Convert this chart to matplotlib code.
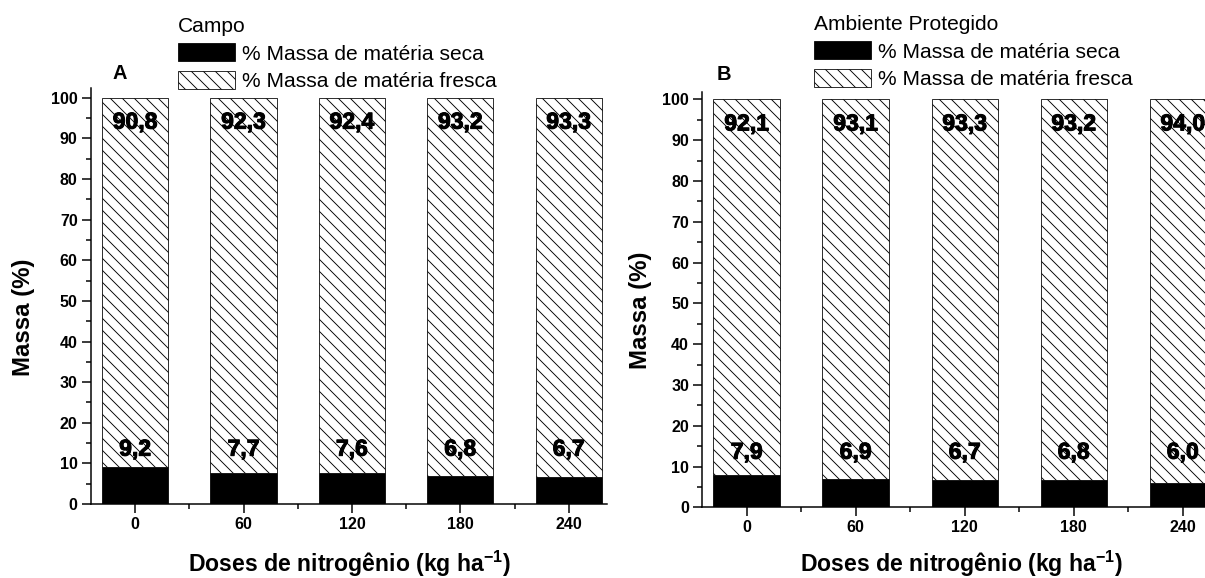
import matplotlib
matplotlib.use('Agg')
import matplotlib.pyplot as plt
import matplotlib.patheffects as pe
from matplotlib.ticker import FixedLocator

# Doses de N e percentuais de massa (seca / fresca)
doses = ['0', '60', '120', '180', '240']
seca_campo = [9.2, 7.7, 7.6, 6.8, 6.7]
fresca_campo = [90.8, 92.3, 92.4, 93.2, 93.3]
seca_protegido = [7.9, 6.9, 6.7, 6.8, 6.0]
fresca_protegido = [92.1, 93.1, 93.3, 93.2, 94.0]

W, H = 1205, 578
plt.rcParams['font.family'] = ['Liberation Sans', 'DejaVu Sans']
plt.rcParams['hatch.linewidth'] = 0.9
plt.rcParams['hatch.color'] = 'black'

fig = plt.figure(figsize=(W / 72, H / 72), dpi=72)
negrito = [pe.withStroke(linewidth=1.0, foreground='black')]


def painel(rect, ytop, seca, fresca, letra, titulo, leg_xy, ylab_xy, xlab_xy, letra_xy):
    ax = fig.add_axes([rect[0] / W, 1 - rect[1] / H, rect[2] / W, rect[3] / H])
    x = range(len(doses))
    b1 = ax.bar(x, seca, width=0.61, color='black', edgecolor='black', linewidth=0.8)
    b2 = ax.bar(x, fresca, width=0.61, bottom=seca, color='white', edgecolor='black',
                linewidth=0.8, hatch='\\\\')

    for i in x:
        ax.text(i, 94.0, f'{fresca[i]:.1f}'.replace('.', ','), ha='center', va='center',
                fontsize=23, fontweight='bold', path_effects=negrito)
        ax.text(i, 13.5, f'{seca[i]:.1f}'.replace('.', ','), ha='center', va='center',
                fontsize=23, fontweight='bold', path_effects=negrito)

    ax.set_xlim(-0.41, 4.35)
    ax.set_ylim(0, ytop)
    ax.set_xticks(list(x))
    ax.set_xticklabels(doses)
    ax.xaxis.set_minor_locator(FixedLocator([0.5, 1.5, 2.5, 3.5]))
    ax.yaxis.set_major_locator(FixedLocator(range(0, 101, 10)))
    ax.yaxis.set_minor_locator(FixedLocator(range(5, 100, 10)))
    ax.tick_params(which='major', length=9, width=1.5, labelsize=16, pad=4)
    ax.tick_params(which='minor', length=5, width=1.5)
    for lab in ax.get_xticklabels() + ax.get_yticklabels():
        lab.set_fontweight('bold')
    for s in ['top', 'right']:
        ax.spines[s].set_visible(False)
    for s in ['left', 'bottom']:
        ax.spines[s].set_linewidth(1.5)

    ax.set_ylabel('Massa (%)', fontsize=24, fontweight='bold')
    ax.yaxis.set_label_coords(ylab_xy[0] / W, 1 - ylab_xy[1] / H, transform=fig.transFigure)
    ax.set_xlabel(r'Doses de nitrogênio (kg ha$^{\mathregular{-1}}$)', fontsize=23,
                  fontweight='bold', va='baseline')
    ax.xaxis.set_label_coords(xlab_xy[0] / W, 1 - xlab_xy[1] / H, transform=fig.transFigure)

    fig.text(letra_xy[0] / W, 1 - letra_xy[1] / H, letra, fontsize=20, fontweight='bold',
             ha='center', va='baseline')

    ax.legend([b1, b2], ['% Massa de matéria seca', '% Massa de matéria fresca'],
              title=titulo, loc='upper left', bbox_to_anchor=(leg_xy[0] / W, 1 - leg_xy[1] / H),
              bbox_transform=fig.transFigure, frameon=False, alignment='left',
              borderpad=0, borderaxespad=0, fontsize=21, title_fontsize=21,
              handlelength=57 / 21, handleheight=20 / 21, handletextpad=7 / 21,
              labelspacing=0.35)
    return ax


painel((90.7, 504, 516, 416), 102.4, seca_campo, fresca_campo, 'A', 'Campo',
       (178, 17), (35, 317), (349, 572), (119.5, 79))
painel((702, 507.3, 519, 415.6), 101.9, seca_protegido, fresca_protegido, 'B',
       'Ambiente Protegido', (814, 15), (652, 310), (961, 572), (723.5, 80))

fig.savefig('out.png', dpi=72)
